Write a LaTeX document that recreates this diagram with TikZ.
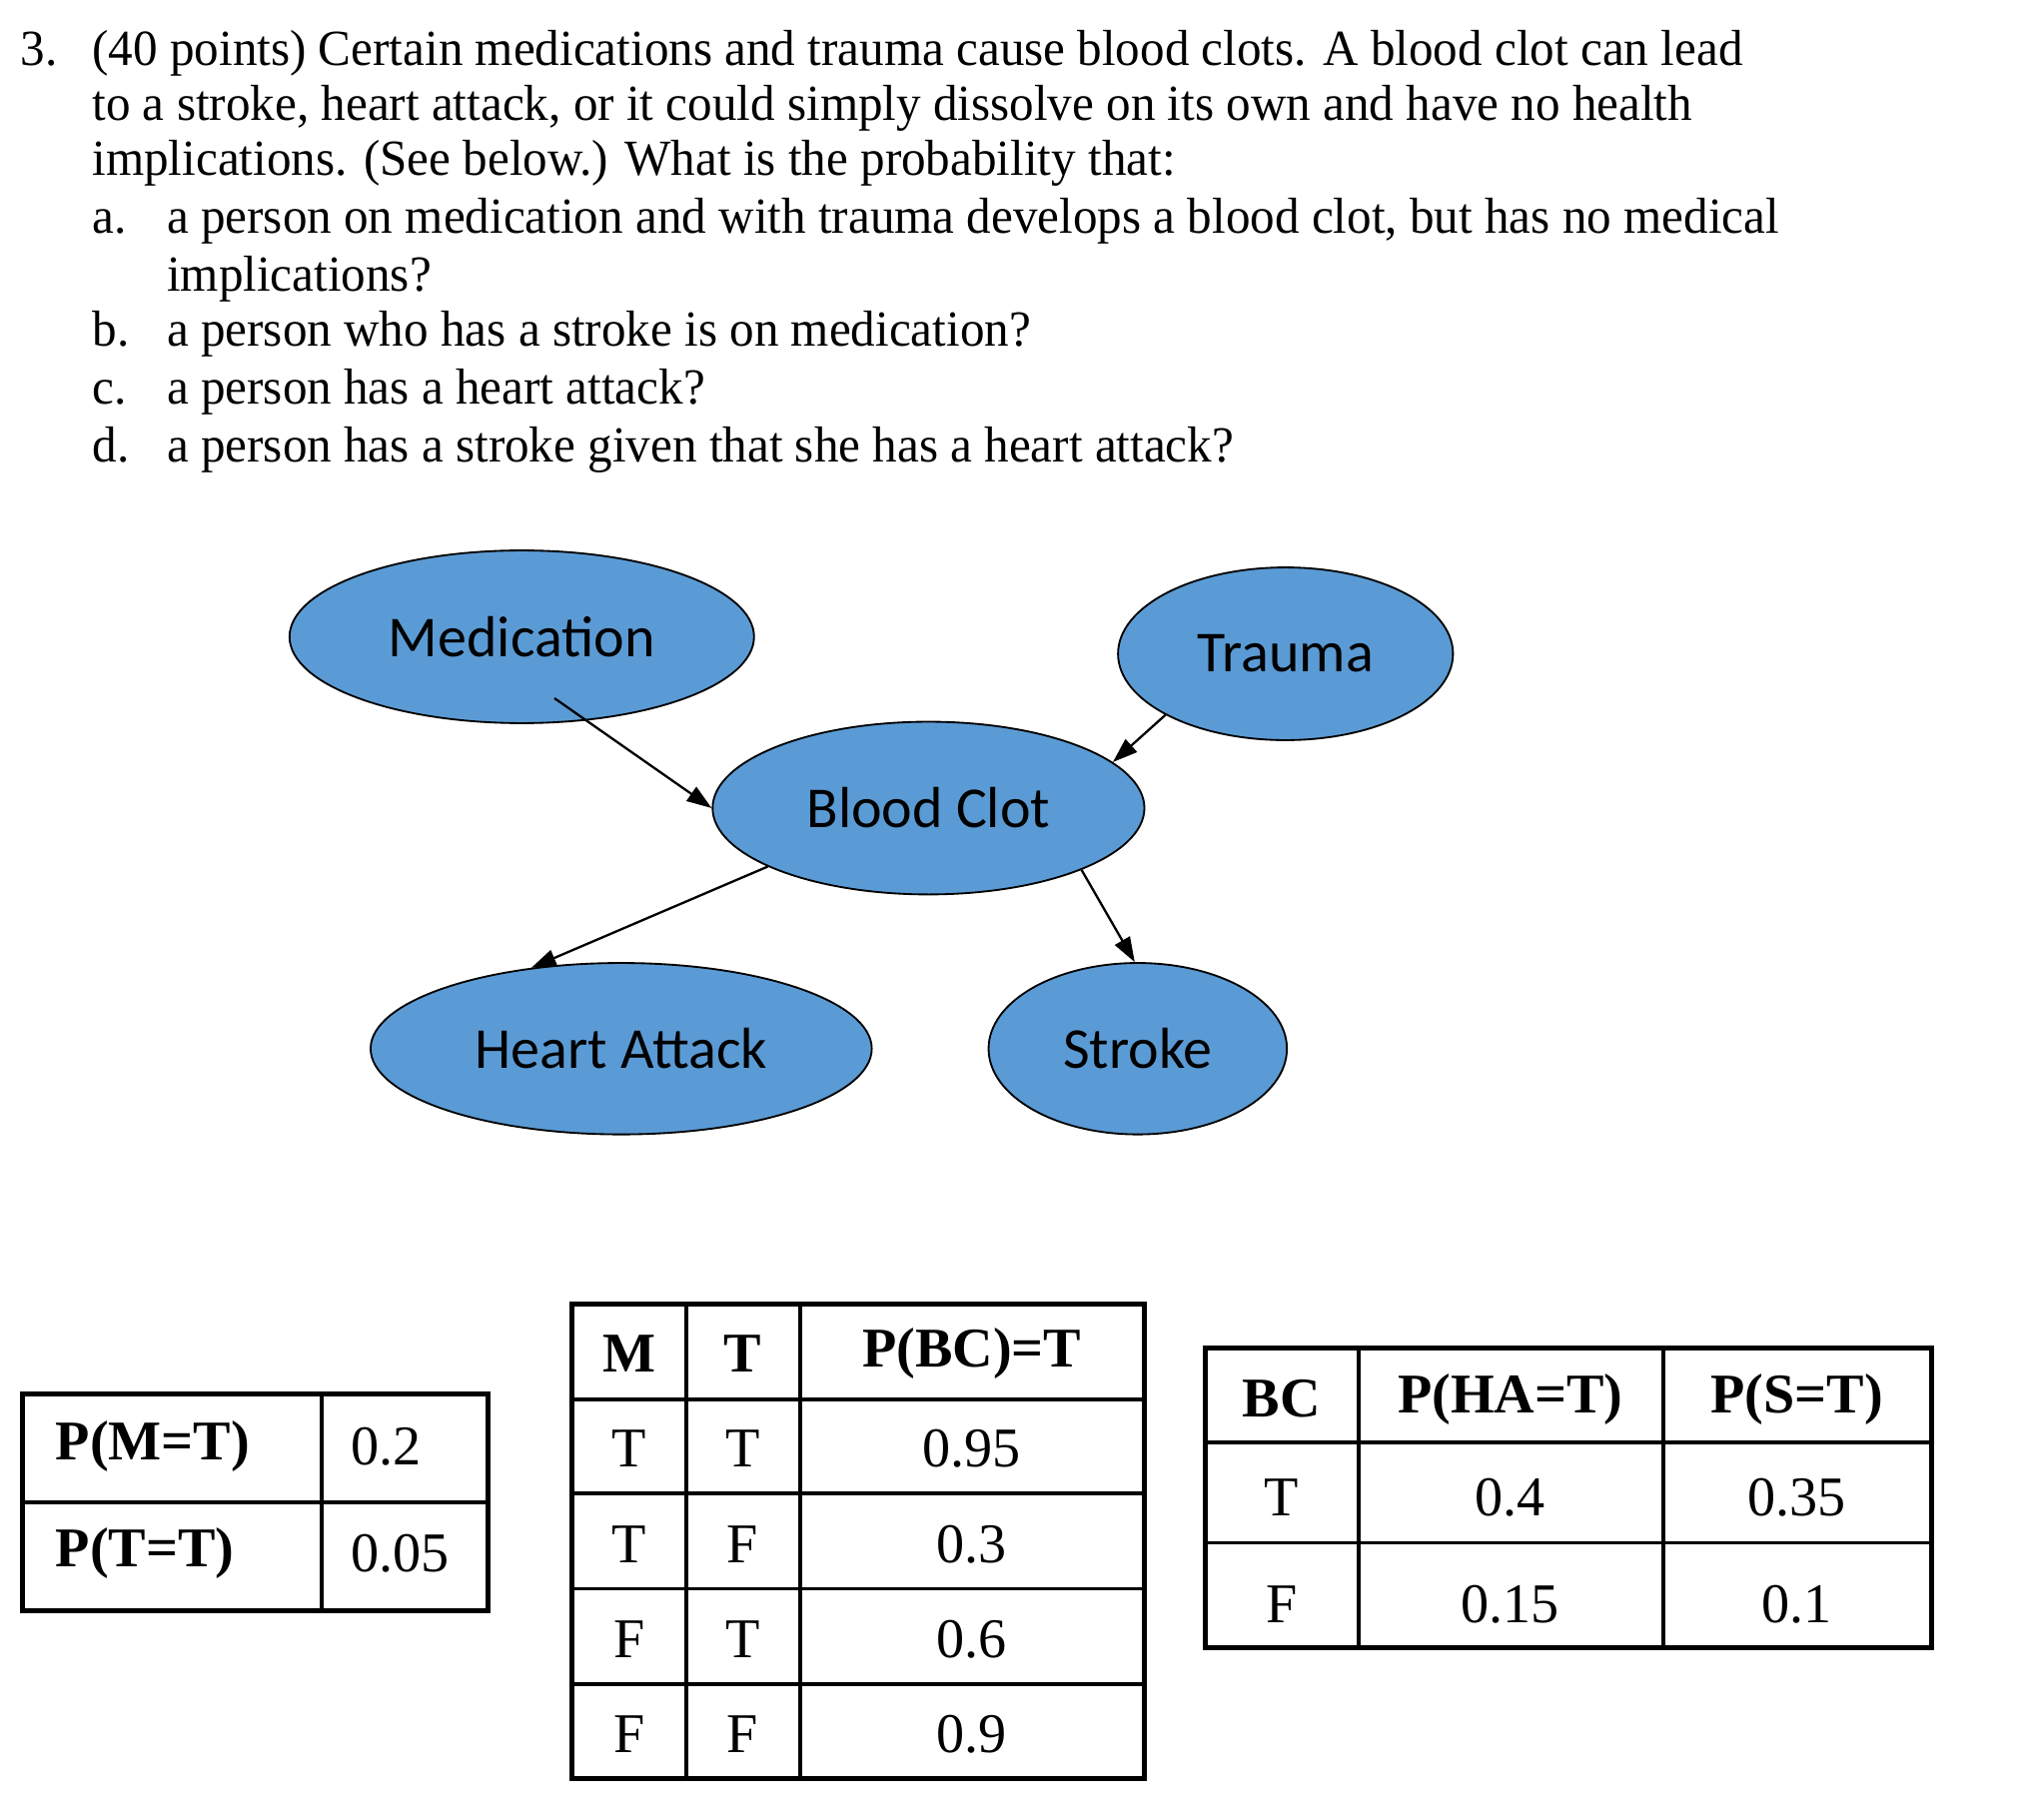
\documentclass[tikz,border=0pt]{standalone}
\usepackage{fontspec}
\setmainfont{Liberation Serif}
\newfontfamily\bodyfont[FakeStretch=0.97]{Liberation Serif}
\newfontfamily\nodefont{Carlito}
\usetikzlibrary{shapes.geometric, arrows.meta, calc}
\definecolor{nodeblue}{HTML}{5B9BD5}
\tikzset{
  txt/.style={anchor=base west, inner sep=0pt, font=\bodyfont\fontsize{11}{13}\selectfont},
  var/.style={ellipse, draw=black, fill=nodeblue, inner sep=0pt, font=\nodefont\fontsize{12.6}{14}\selectfont},
  cell/.style={inner sep=0pt, font=\fontsize{12.2}{14}\selectfont},
  head/.style={cell, font=\fontsize{12.2}{14}\selectfont\bfseries},
  edge/.style={-{Triangle[length=0.19cm, width=0.13cm]}, line width=0.5pt},
  grid/.style={line width=0.8pt},
  frame/.style={line width=1.1pt}
}

\begin{document}
\begin{tikzpicture}[x=0.01cm, y=-0.01cm]
  \useasboundingbox (0,0) rectangle (1563,1391);

  % question text
  \node[txt] (num) at (15,49.7) {3.};
  \node[txt] (l1) at (70,49.7) {(40 points) Certain medications and trauma cause blood clots. A blood clot can lead};
  \node[txt] (l2) at (70,91.7) {to a stroke, heart attack, or it could simply dissolve on its own and have no health};
  \node[txt] (l3) at (70,133.7) {implications. (See below.) What is the probability that:};
  \node[txt] (qa) at (70,178) {a.};
  \node[txt] (la) at (127,178) {a person on medication and with trauma develops a blood clot, but has no medical};
  \node[txt] (la2) at (127,223) {implications?};
  \node[txt] (qb) at (70,265) {b.};
  \node[txt] (lb) at (127,265) {a person who has a stroke is on medication?};
  \node[txt] (qc) at (70,309) {c.};
  \node[txt] (lc) at (127,309) {a person has a heart attack?};
  \node[txt] (qd) at (70,353) {d.};
  \node[txt] (ld) at (127,353) {a person has a stroke given that she has a heart attack?};

  % network
  \node (medi) [var, minimum width=3.55cm, minimum height=1.32cm] at (399,487) {Medication};
  \node (trauma) [var, minimum width=2.56cm, minimum height=1.32cm] at (983,500) {Trauma};
  \node (clot) [var, minimum width=3.30cm, minimum height=1.32cm] at (710,618) {Blood Clot};
  \node (heart) [var, minimum width=3.83cm, minimum height=1.31cm] at (475,802) {Heart Attack};
  \node (stroke) [var, minimum width=2.28cm, minimum height=1.31cm] at (870,802) {Stroke};

  \draw [edge] ($(medi.center)+(25,47)$) -- (clot.west);
  \draw [edge] (trauma.-153) -- (clot.14);
  \draw [edge] (clot.-160) -- (heart.138);
  \draw [edge] (clot.-22) -- (stroke.92);

  % priors
  \draw [grid] (246,1066) -- (246,1232) (17,1149) -- (373,1149);
  \draw [frame] (17,1066) rectangle (373,1232);
  \node[head, anchor=west] (pm) at (42,1106) {P(M=T)};
  \node[cell, anchor=west] (pmv) at (268,1106) {0.2};
  \node[head, anchor=west] (pt) at (42,1188) {P(T=T)};
  \node[cell, anchor=west] (ptv) at (268,1188) {0.05};

  % blood clot table
  \draw [grid] (525,997) -- (525,1360) (612,997) -- (612,1360);
  \foreach \y in {1070,1142,1215,1288}
    \draw [grid] (437,\y) -- (875,\y);
  \draw [frame] (437,997) rectangle (875,1360);
  \node[head] (hm) at (481,1035) {M};
  \node[head] (ht) at (568,1035) {T};
  \node[head] (hbc) at (743,1035) {P(BC)=T};
  \foreach \m/\t/\p/\y [count=\i] in {T/T/0.95/1108, T/F/0.3/1181, F/T/0.6/1254, F/F/0.9/1326} {
    \node[cell] (m\i) at (481,\y) {\m};
    \node[cell] (t\i) at (568,\y) {\t};
    \node[cell] (bc\i) at (743,\y) {\p};
  }

  % heart attack / stroke table
  \draw [grid] (1039,1031) -- (1039,1260) (1272,1031) -- (1272,1260);
  \draw [grid] (922,1103) -- (1477,1103) (922,1180) -- (1477,1180);
  \draw [frame] (922,1031) rectangle (1477,1260);
  \node[head] (hbc2) at (980,1070) {BC};
  \node[head] (hha) at (1155,1070) {P(HA=T)};
  \node[head] (hs) at (1374,1070) {P(S=T)};
  \foreach \b/\h/\s/\y [count=\i] in {T/0.4/0.35/1145, F/0.15/0.1/1227} {
    \node[cell] (b\i) at (980,\y) {\b};
    \node[cell] (ha\i) at (1155,\y) {\h};
    \node[cell] (s\i) at (1374,\y) {\s};
  }
\end{tikzpicture}
\end{document}
